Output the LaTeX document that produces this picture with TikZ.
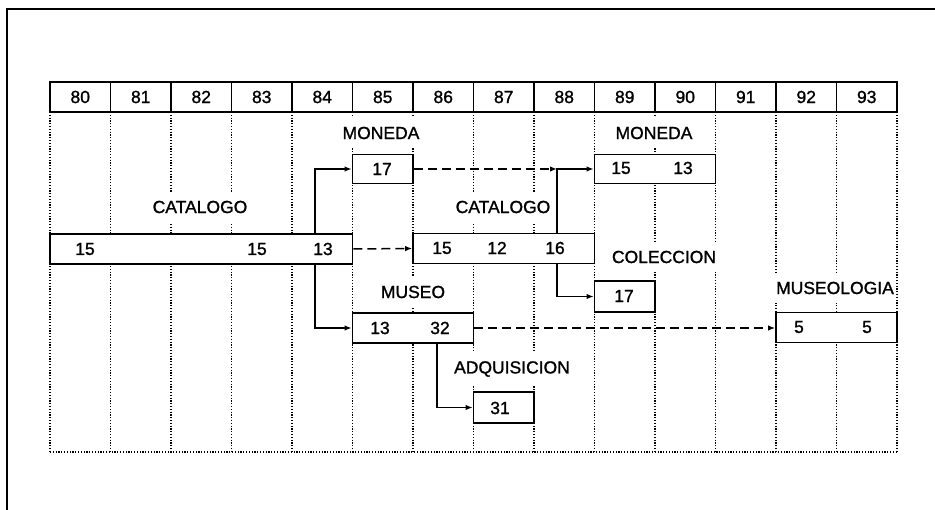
\documentclass[tikz,border=0pt]{standalone}
\usepackage{fontspec}
\setmainfont{Liberation Sans}
\newfontfamily\diafont{Liberation Sans}[FakeBold=1.2]
\usetikzlibrary{arrows.meta}
\begin{document}
\begin{tikzpicture}[x=1pt,y=-1pt,
  font=\diafont\fontsize{17.5}{19}\selectfont,
  frame/.style={line width=2pt},
  hdr/.style={line width=1.4pt},
  grid/.style={line width=1.3pt,dash pattern=on 1.2pt off 1.6pt},
  box/.style={draw,line width=1.7pt,fill=white,inner sep=0pt},
  lbl/.style={fill=white,inner xsep=2pt,inner ysep=9pt},
  num/.style={inner sep=1pt},
  arr/.style={line width=1.5pt,-{Latex[length=7pt,width=5.5pt]}},
  darr/.style={arr,dash pattern=on 9pt off 5pt}]
\useasboundingbox (0,0) rectangle (935,510);
% outer frame
\draw[frame] (7,510) -- (7,9) -- (935,9);
% grid
\foreach \i in {0,...,14}{
  \draw[grid] ({50+60.5*\i},112) -- ({50+60.5*\i},452);
}
\draw[grid] (50,452) -- (897,452);
% header
\draw[hdr,fill=white] (50,82) rectangle (897,112);
\foreach \i in {1,...,13}{
  \draw[hdr] ({50+60.5*\i},82) -- ({50+60.5*\i},112);
}
\foreach \i [count=\k from 0] in {80,...,93}{
  \node[num] (h\i) at ({80.25+60.5*\k},97) {\i};
}
% labels
\node[lbl] (lcat1) at (200,207) {CATALOGO};
\node[lbl] (lmon1) at (381,133) {MONEDA};
\node[lbl] (lcat2) at (503,207) {CATALOGO};
\node[lbl] (lmon2) at (654,133) {MONEDA};
\node[lbl] (lcol) at (664,257) {COLECCION};
\node[lbl] (lmus) at (413,292) {MUSEO};
\node[lbl] (ladq) at (512,369) {ADQUISICION};
\node[lbl] (lmsl) at (835,288) {MUSEOLOGIA};
% boxes
\node[box,minimum width=302.5pt,minimum height=30pt] (cat1) at (201.25,249) {};
\node[box,minimum width=60.5pt,minimum height=29pt] (mon1) at (382.75,169) {};
\node[box,minimum width=181.5pt,minimum height=30pt] (cat2) at (503.75,248.5) {};
\node[box,minimum width=121pt,minimum height=29pt] (mon2) at (655,169) {};
\node[box,minimum width=60.5pt,minimum height=31pt] (col) at (624.75,296.5) {};
\node[box,minimum width=121pt,minimum height=30pt] (mus) at (413,328) {};
\node[box,minimum width=60.5pt,minimum height=31pt] (adq) at (503.75,407.5) {};
\node[box,minimum width=121pt,minimum height=30pt] (msl) at (836.5,327.5) {};
% numbers
\node[num] (n1) at (85,249) {15};
\node[num] (n2) at (257,249) {15};
\node[num] (n3) at (323,249) {13};
\node[num] (n4) at (382,169) {17};
\node[num] (n5) at (442,248) {15};
\node[num] (n6) at (497,248) {12};
\node[num] (n7) at (555,248) {16};
\node[num] (n8) at (621,168) {15};
\node[num] (n9) at (683,168) {13};
\node[num] (n10) at (624,296) {17};
\node[num] (n11) at (380,328) {13};
\node[num] (n12) at (440,328) {32};
\node[num] (n13) at (500,408) {31};
\node[num] (n14) at (799,327) {5};
\node[num] (n15) at (867,327) {5};
% junctions
\coordinate (j1) at (315,249);
\coordinate (j2) at (557,169);
\coordinate (j3) at (437,380);
% connectors
\draw[arr] (cat1.north -| j1) |- (mon1.west);
\draw[arr] (cat1.south -| j1) |- (mus.west);
\draw[darr] (cat1.east) -- (cat2.west);
\draw[darr] (mon1.east) -- (j2);
\draw[arr] (cat2.north -| j2) |- (mon2.west);
\draw[arr] (cat2.south -| j2) |- (col.west);
\draw[darr] (mus.east) -- (mus.east -| msl.west);
\draw[arr] (mus.south -| j3) |- (adq.west);
\end{tikzpicture}
\end{document}
